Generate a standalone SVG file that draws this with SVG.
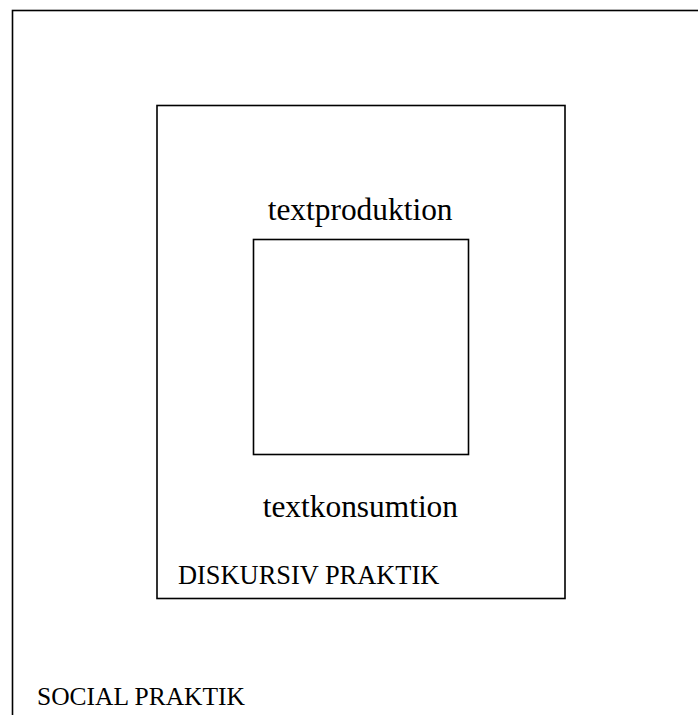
<svg xmlns="http://www.w3.org/2000/svg" width="698" height="715" viewBox="0 0 698 715">
<style>
.box{fill:none;stroke:#000;stroke-width:1.6}
.t{font-family:"Liberation Serif","Times New Roman",serif;fill:#000}
</style>
<rect width="698" height="715" fill="#fff"/>
<g id="social-praktik">
<rect class="box" x="12.5" y="10.5" width="720" height="740"/>
<text class="t" x="37" y="705" font-size="25.5">SOCIAL PRAKTIK</text>
</g>
<g id="diskursiv-praktik">
<rect class="box" x="157" y="105.5" width="408" height="493"/>
<text class="t" x="178" y="583.5" font-size="26.4">DISKURSIV PRAKTIK</text>
<text class="t" x="267.7" y="219.5" font-size="31.4">textproduktion</text>
<text class="t" x="262.7" y="517" font-size="31.4">textkonsumtion</text>
</g>
<g id="text">
<rect class="box" x="253.5" y="239.5" width="215" height="215"/>
</g>
<g id="connectors"/>
</svg>
